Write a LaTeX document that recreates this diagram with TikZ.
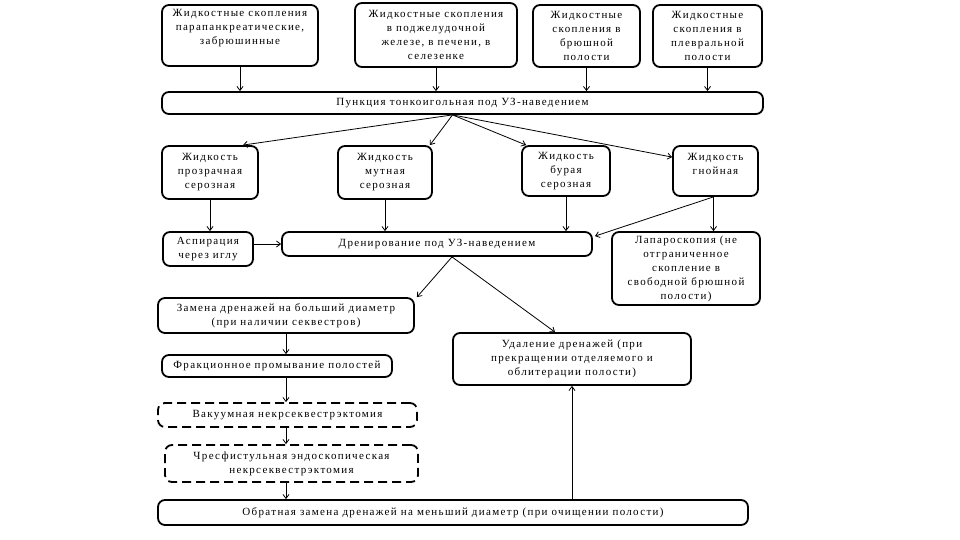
\documentclass[tikz,border=0pt]{standalone}
\usepackage{fontspec}
\setmainfont{Liberation Serif}[LetterSpace=12]
\usetikzlibrary{arrows.meta}
\begin{document}
\begin{tikzpicture}[x=1pt,y=-1pt,
  box/.style={draw, line width=1.8pt, rounded corners=7pt, align=center, inner sep=2pt,
    font=\fontsize{11}{14}\selectfont},
  dbox/.style={box, dash pattern=on 9pt off 5pt},
  arr/.style={-{Straight Barb[length=4pt,width=6pt]}, line width=0.8pt}]
\useasboundingbox (0,0) rectangle (960,540);
% top row
\node[box, minimum width=156, minimum height=61] (t1) at (240,35.5) {Жидкостные скопления\\парапанкреатические,\\забрюшинные\\[3pt]};
\node[box, minimum width=162, minimum height=64] (t2) at (436,35) {Жидкостные скопления\\в поджелудочной\\железе, в печени, в\\селезенке};
\node[box, minimum width=107, minimum height=62] (t3) at (586.5,36) {Жидкостные\\скопления в\\брюшной\\полости};
\node[box, minimum width=109, minimum height=62] (t4) at (707.5,36) {Жидкостные\\скопления в\\плевральной\\полости};
\node[box, minimum width=601, minimum height=22] (bar) at (462.5,103) {Пункция тонкоигольная под УЗ-наведением};
% fluids
\node[box, minimum width=96, minimum height=53] (f1) at (210,172.5) {Жидкость\\прозрачная\\серозная};
\node[box, minimum width=94, minimum height=53] (f2) at (385,172.5) {Жидкость\\мутная\\серозная};
\node[box, minimum width=88, minimum height=50] (f3) at (566,171) {Жидкость\\бурая\\серозная};
\node[box, minimum width=85, minimum height=50] (f4) at (715.5,171) {Жидкость\\гнойная\\~};
% second level
\node[box, minimum width=90, minimum height=34] (asp) at (208,249) {Аспирация\\через иглу};
\node[box, minimum width=310, minimum height=24] (dren) at (437,244) {Дренирование под УЗ-наведением};
\node[box, minimum width=148, minimum height=73] (lap) at (686,268.5) {Лапароскопия (не\\отграниченное\\скопление в\\свободной брюшной\\полости)};
% lower
\node[box, minimum width=256, minimum height=35] (zam) at (286,315.5) {Замена дренажей на больший диаметр\\(при наличии секвестров)};
\node[box, minimum width=238, minimum height=52] (ud) at (572,359) {Удаление дренажей (при\\прекращении отделяемого и\\облитерации полости)};
\node[box, minimum width=230, minimum height=22] (fr) at (277,366) {Фракционное промывание полостей};
\node[dbox, minimum width=259, minimum height=24] (vac) at (287.5,415) {Вакуумная некрсеквестрэктомия};
\node[dbox, minimum width=253, minimum height=37] (chr) at (291.5,463.5) {Чресфистульная эндоскопическая\\некрсеквестрэктомия};
\node[box, minimum width=590, minimum height=25] (obr) at (453,512.5) {Обратная замена дренажей на меньший диаметр (при очищении полости)};
% arrows from top
\foreach \n in {t1,t2,t3,t4} \draw[arr] (\n.south) -- (\n.south |- bar.north);
\coordinate (p) at ([xshift=-10]bar.south);
\draw[arr] (p) -- ([xshift=-16]f1.north east);
\draw[arr] (p) -- ([xshift=-3]f2.north east);
\draw[arr] (p) -- ([xshift=5]f3.north west);
\draw[arr] (p) -- ([yshift=-12]f4.north west);
% fluids down
\draw[arr] (f1.south) -- (f1.south |- asp.north);
\draw[arr] (f2.south) -- (f2.south |- dren.north);
\draw[arr] (f3.south) -- (f3.south |- dren.north);
\draw[arr] ([xshift=-2]f4.south) -- ([xshift=-2]f4.south |- lap.north);
\draw[arr] ([xshift=-2]f4.south) -- ([xshift=2,yshift=-5]dren.north east);
\draw[arr] (asp.east |- dren.west) -- (dren.west);
% drainage split
\coordinate (q) at ([xshift=15]dren.south);
\draw[arr] (q) -- ([xshift=2]zam.north east);
\draw[arr] (q) -- ([xshift=-17]ud.north);
% chain
\draw[arr] (zam.south) -- (zam.south |- fr.north);
\draw[arr] (fr.south -| zam.south) -- (vac.north -| zam.south);
\draw[arr] (vac.south -| zam.south) -- (chr.north -| zam.south);
\draw[arr] (chr.south -| zam.south) -- (obr.north -| zam.south);
\draw[arr] (obr.north -| ud.south) -- (ud.south);
\end{tikzpicture}
\end{document}
